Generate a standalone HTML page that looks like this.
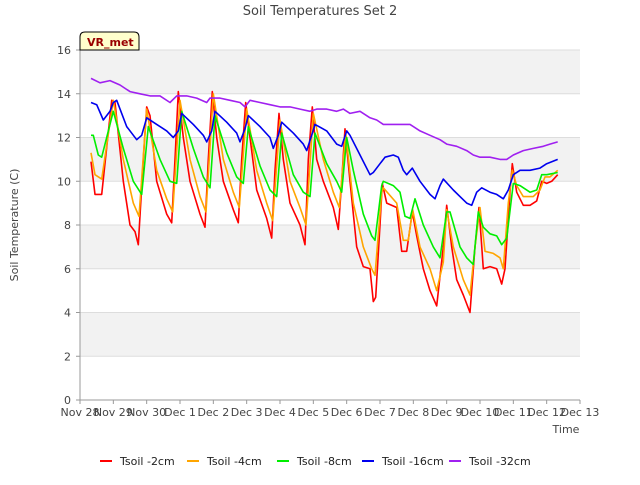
<!DOCTYPE html>
<html><head><meta charset="utf-8"><style>
body{margin:0;background:#fff;font-family:"Liberation Sans","DejaVu Sans",sans-serif}
svg text{font-family:"DejaVu Sans","Liberation Sans",sans-serif}
</style></head><body>
<svg id="chart" width="640" height="480" xmlns="http://www.w3.org/2000/svg">
<rect width="640" height="480" fill="#fff"/>
<text x="320" y="15" text-anchor="middle" font-size="13" fill="#444">Soil Temperatures Set 2</text>
<g id="bands"></g><g id="grid"></g><g id="axes"></g><g id="lines"></g>
<g>
<path d="M80,50 L80,37 Q80,32 85,32 L134,32 Q139,32 139,37 L139,50 Z" fill="#ffffcc" stroke="#000" stroke-width="1"/>
<text x="87" y="46" font-size="11" font-weight="bold" fill="#990000">VR_met</text></g>
<text x="18" y="225" transform="rotate(-90 18 225)" text-anchor="middle" font-size="11" fill="#444">Soil Temperature (C)</text>
<text x="566" y="433" text-anchor="middle" font-size="11" fill="#444">Time</text>
<g id="legend"></g>
</svg>
<script>
const xTickLabels=["Nov 28","Nov 29","Nov 30","Dec 1","Dec 2","Dec 3","Dec 4","Dec 5","Dec 6","Dec 7","Dec 8","Dec 9","Dec 10","Dec 11","Dec 12","Dec 13"];
const yTicks=[0,2,4,6,8,10,12,14,16];
const seriesNames=["Tsoil -2cm","Tsoil -4cm","Tsoil -8cm","Tsoil -16cm","Tsoil -32cm"];
const seriesColors=["#ff0000","#ffa500","#00ee00","#0000ee","#a020f0"];
const t2=[0.33,0.45,0.65,0.95,1.05,1.3,1.5,1.65,1.75,1.9,2.0,2.1,2.3,2.6,2.75,2.85,2.95,3.1,3.3,3.6,3.75,3.85,3.97,4.1,4.3,4.6,4.75,4.85,4.97,5.1,5.3,5.6,5.75,5.85,5.97,6.1,6.3,6.6,6.75,6.85,6.97,7.1,7.3,7.6,7.75,7.85,7.95,8.1,8.3,8.5,8.7,8.8,8.87,9.0,9.07,9.2,9.5,9.65,9.8,9.97,10.1,10.3,10.5,10.7,10.9,11.0,11.15,11.3,11.5,11.7,11.85,11.97,12.1,12.3,12.5,12.65,12.75,12.9,12.97,13.1,13.3,13.5,13.7,13.85,14.0,14.15,14.33];
const v2=[10.9,9.4,9.4,13.7,13.6,10,8,7.7,7.1,11,13.4,13,10,8.5,8.1,11,14.1,12,10,8.5,7.9,11,14.1,12,10,8.7,8.1,11,13.6,12,9.6,8.3,7.4,10.5,13.1,11,9,8,7.1,11,13.4,11,10,8.8,7.8,10,12.4,10,7,6.1,6,4.5,4.7,8,9.9,9,8.8,6.8,6.8,8.6,7.5,6,5,4.3,7,8.9,7,5.5,4.8,4,7,8.8,6,6.1,6,5.3,6,9.5,10.8,9.5,8.9,8.9,9.1,10,9.9,10,10.3];
const t4=[0.33,0.45,0.65,1.0,1.3,1.6,1.77,2.0,2.3,2.6,2.78,3.0,3.3,3.6,3.78,4.0,4.3,4.6,4.78,5.0,5.3,5.6,5.78,6.0,6.3,6.6,6.78,7.0,7.3,7.6,7.78,7.97,8.2,8.5,8.75,8.85,9.05,9.1,9.5,9.7,9.85,9.98,10.2,10.5,10.7,10.9,11.0,11.2,11.5,11.7,11.85,12.0,12.15,12.4,12.6,12.7,12.85,12.97,13.1,13.3,13.6,13.8,13.95,14.1,14.33];
const v4=[11.3,10.3,10.1,13.7,11,9,8.4,13.3,10.5,9.2,8.6,13.7,11,9.3,8.6,14,11,9.5,8.8,13.3,10.5,9,8.2,12.8,10,8.8,8,13.1,11,9.5,8.8,12.2,9,7,6,5.7,9.5,9.7,9,7.3,7.3,8.7,7,6,5,6.3,8.7,7,5.5,4.8,7,8.8,6.8,6.7,6.5,6,9,10.5,9.8,9.3,9.3,9.6,10.2,10.2,10.5];
const t8=[0.33,0.4,0.55,0.65,1.0,1.3,1.6,1.85,2.05,2.4,2.7,2.9,3.05,3.4,3.7,3.9,4.05,4.4,4.7,4.9,5.05,5.4,5.7,5.9,6.05,6.4,6.7,6.9,7.05,7.4,7.7,7.85,8.0,8.2,8.5,8.75,8.85,9.05,9.1,9.4,9.6,9.75,9.9,10.05,10.3,10.6,10.8,11.0,11.1,11.4,11.6,11.8,11.95,12.1,12.3,12.5,12.65,12.8,13.0,13.2,13.5,13.7,13.85,14.0,14.33];
const v8=[12.1,12.1,11.2,11.1,13.2,11.5,10,9.4,12.5,11,10,9.9,13.2,11.5,10.2,9.7,13,11.3,10.2,9.9,12.5,10.7,9.6,9.3,12.2,10.3,9.5,9.3,12.2,10.8,10,9.5,12,10.5,8.5,7.5,7.3,9.8,10,9.8,9.5,8.4,8.3,9.2,8,7,6.5,8.6,8.6,7,6.5,6.2,8.6,7.9,7.6,7.5,7.1,7.4,9.9,9.8,9.5,9.6,10.3,10.3,10.4];
const t16=[0.33,0.5,0.7,0.9,1.0,1.1,1.4,1.7,1.85,2.0,2.3,2.6,2.8,2.95,3.05,3.4,3.7,3.8,3.95,4.05,4.4,4.7,4.8,4.95,5.05,5.4,5.7,5.8,5.95,6.05,6.4,6.7,6.8,6.95,7.05,7.4,7.7,7.85,8.0,8.1,8.4,8.7,8.8,9.0,9.15,9.4,9.55,9.7,9.8,9.97,10.2,10.5,10.65,10.8,10.9,11.2,11.4,11.6,11.75,11.9,12.05,12.3,12.5,12.7,12.85,13.0,13.2,13.5,13.8,14.0,14.33];
const v16=[13.6,13.5,12.8,13.2,13.6,13.7,12.5,11.9,12.1,12.9,12.6,12.3,12.0,12.3,13.1,12.6,12.1,11.8,12.3,13.2,12.7,12.2,11.8,12.4,13,12.5,12.0,11.5,12.1,12.7,12.2,11.7,11.4,12.1,12.6,12.3,11.7,11.6,12.3,12.1,11.2,10.3,10.4,10.8,11.1,11.2,11.1,10.5,10.3,10.6,10,9.4,9.2,9.8,10.1,9.6,9.3,9,8.9,9.5,9.7,9.5,9.4,9.2,9.6,10.3,10.5,10.5,10.6,10.8,11.0];
const t32=[0.33,0.6,0.9,1.2,1.5,1.8,2.1,2.4,2.7,2.9,3.2,3.5,3.8,3.9,4.2,4.5,4.8,4.95,5.1,5.4,5.7,6.0,6.3,6.6,6.9,7.1,7.4,7.7,7.9,8.1,8.4,8.7,8.9,9.1,9.4,9.7,9.9,10.2,10.5,10.8,11.0,11.3,11.6,11.8,12.0,12.3,12.6,12.8,13.0,13.3,13.6,13.9,14.1,14.33];
const v32=[14.7,14.5,14.6,14.4,14.1,14.0,13.9,13.9,13.6,13.9,13.9,13.8,13.6,13.8,13.8,13.7,13.6,13.4,13.7,13.6,13.5,13.4,13.4,13.3,13.2,13.3,13.3,13.2,13.3,13.1,13.2,12.9,12.8,12.6,12.6,12.6,12.6,12.3,12.1,11.9,11.7,11.6,11.4,11.2,11.1,11.1,11.0,11.0,11.2,11.4,11.5,11.6,11.7,11.8];
const seriesT=[t2,t4,t8,t16,t32], seriesV=[v2,v4,v8,v16,v32];
const X0=80,X1=580,Y0=400,Y1=50;
const xs=d=>X0+d*(X1-X0)/15, ys=v=>Y0-v*(Y0-Y1)/16;
const NS="http://www.w3.org/2000/svg";
function mk(tag,attrs,parent){const e=document.createElementNS(NS,tag);for(const k in attrs)e.setAttribute(k,attrs[k]);parent.appendChild(e);return e;}
const bands=document.getElementById('bands'),grid=document.getElementById('grid'),axes=document.getElementById('axes'),lines=document.getElementById('lines'),legend=document.getElementById('legend');
mk('rect',{x:X0,y:Y1,width:X1-X0,height:Y0-Y1,fill:'#fff'},bands);
for(let i=0;i<yTicks.length-1;i++){if(i%2===1){const r=mk('rect',{x:X0,y:ys(yTicks[i+1]),width:X1-X0,height:ys(yTicks[i])-ys(yTicks[i+1]),fill:'#f2f2f2'},bands);

}}
yTicks.forEach(v=>{const y=ys(v);
const l=mk('line',{x1:X0,x2:X1,y1:y,y2:y,stroke:'#dddddd','stroke-width':1},grid);


mk('line',{x1:X0-4,x2:X0,y1:y,y2:y,stroke:'#999'},axes);
const t=mk('text',{x:X0-9,y:y+4,'text-anchor':'end','font-size':11,fill:'#444'},axes);t.textContent=v;

});
mk('line',{x1:X0,x2:X0,y1:Y1,y2:Y0,stroke:'#999'},axes);
mk('line',{x1:X0,x2:X1,y1:Y0,y2:Y0,stroke:'#999'},axes);
xTickLabels.forEach((s,i)=>{const x=xs(i);mk('line',{x1:x,x2:x,y1:Y0,y2:Y0+4,stroke:'#999'},axes);
const t=mk('text',{x:x,y:Y0+16,'text-anchor':'middle','font-size':11,fill:'#444'},axes);t.textContent=s;

});
seriesNames.forEach((n,k)=>{const T=seriesT[k],V=seriesV[k];
const p=mk('polyline',{points:T.map((d,i)=>xs(d).toFixed(1)+','+ys(V[i]).toFixed(1)).join(' '),fill:'none',stroke:seriesColors[k],'stroke-width':1.6,'stroke-linejoin':'round'},lines);


const lx=[100,187,277,362,449][k];
const g=mk('g',{},legend);


mk('line',{x1:lx,x2:lx+12,y1:461,y2:461,stroke:seriesColors[k],'stroke-width':2},g);
const t=mk('text',{x:lx+20,y:465,'font-size':11,fill:'#222'},g);t.textContent=n;});
</script>
</body></html>
